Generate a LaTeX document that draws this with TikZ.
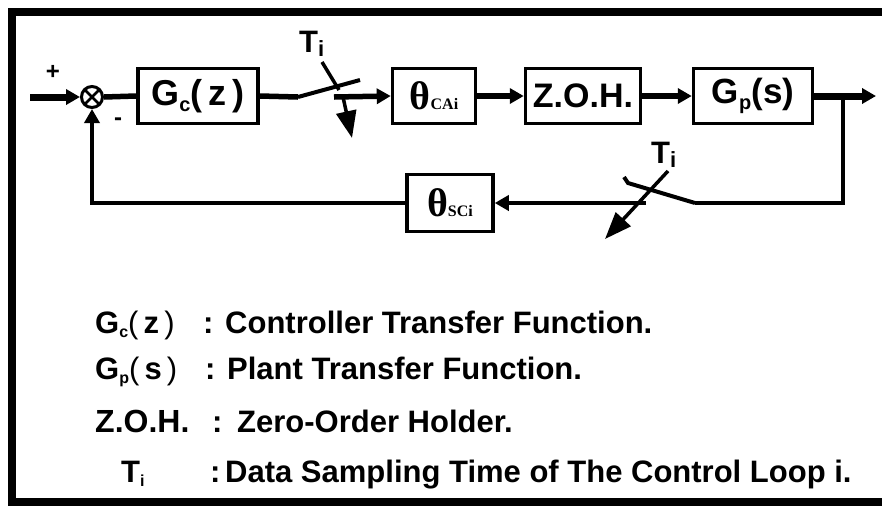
\documentclass[tikz,border=0pt]{standalone}
\usepackage{fontspec}
\setmainfont{Liberation Sans}
\newfontfamily\thetafont{Liberation Serif}
\usetikzlibrary{arrows.meta,calc}
\newcommand\mysub[2]{\raisebox{-0.3ex}{\fontsize{#1}{#1}\selectfont #2}}
\begin{document}
\begin{tikzpicture}[x=1pt,y=-1pt,
  blk/.style={draw,line width=3.5pt,minimum width=#1,minimum height=55pt,inner sep=0pt},
  fwd/.style={line width=5.5pt},
  fb/.style={line width=3.5pt},
  tip/.style={-{Triangle[length=14pt,width=15pt]}},
  bigtip/.style={-{Triangle[length=27pt,width=20pt]}},
  lab/.style={anchor=base west,inner sep=0pt,font=\fontsize{31}{31}\selectfont\bfseries},
  sgn/.style={inner sep=0pt,font=\fontsize{24}{24}\selectfont\bfseries}]
\useasboundingbox (0,0) rectangle (882,507);
\fill[white] (0,0) rectangle (882,507);
% frame
\draw[line width=8pt] (882,12) -- (12,12) -- (12,502) -- (882,502);

% blocks
\node[circle,draw,line width=3pt,minimum size=21pt,inner sep=0pt] (sum) at (92,97) {};
\draw[line width=2.5pt,shorten <=1pt,shorten >=1pt] (sum.north west) -- (sum.south east);
\draw[line width=2.5pt,shorten <=1pt,shorten >=1pt] (sum.north east) -- (sum.south west);
\node[blk=120pt] (Gc) at (198,96) {\fontsize{36}{36}\selectfont\bfseries G\mysub{20}{c}(\,z\,)};
\node[blk=83pt] (thC) at (434,96) {\thetafont\bfseries\fontsize{40}{40}\selectfont θ\fontsize{16}{16}\selectfont CAi};
\node[blk=115pt] (zoh) at (583,96) {\fontsize{34}{34}\selectfont\bfseries Z.O.H.};
\node[blk=119pt] (Gp) at (753,96) {\fontsize{35}{35}\selectfont\bfseries G\mysub{20}{p}(s)};
\node[blk=86pt,minimum height=57pt] (thS) at (450,203) {\thetafont\bfseries\fontsize{40}{40}\selectfont θ\fontsize{16}{16}\selectfont SCi};

% signs
\node[sgn] (plus) at (53,72) {+};
\node[sgn] (minus) at (118,122) {-};

% input
\coordinate (in) at (30,97);
\draw[line width=7pt,tip] (in) -- (sum.west);
\draw[fwd] (sum.east) -- (Gc.west);

% first sampler
\coordinate (s1a) at (298,97);
\coordinate (s1b) at (360,80);
\coordinate (s1c) at (334,97);
\draw[fwd] (Gc.east) -- (s1a);
\draw[line width=4pt] (s1a) -- (s1b);
\draw[fwd,tip] (s1c) -- (thC.west);
\node[lab] (T1) at (299,52) {T\mysub{22}{i}};
\coordinate (a1a) at (322,62);
\coordinate (a1b) at (339,90);
\coordinate (a1c) at (343,97);
\coordinate (a1d) at (352,138);
\draw[line width=3.5pt] (a1a) -- (a1b);
\draw[line width=3.5pt,bigtip] (a1c) -- (a1d);

% forward path
\draw[fwd,tip] (thC.east) -- (zoh.west);
\draw[fwd,tip] (zoh.east) -- (Gp.west);
\coordinate (br) at (843,96);
\coordinate (out) at (876,96);
\draw[line width=7pt,tip] (Gp.east) -- (out);

% feedback with second sampler
\coordinate (s2a) at (695,203);
\coordinate (s2b) at (628,183);
\coordinate (s2h) at (624,177);
\coordinate (s2c) at (646,203);
\draw[fb] (br) |- (s2a);
\draw[line width=4pt] (s2a) -- (s2b) -- (s2h);
\draw[fb,tip] (s2c) -- (thS.east);
\node[lab] (T2) at (651,163) {T\mysub{22}{i}};
\coordinate (a2a) at (668,171);
\coordinate (a2b) at (605,239);
\draw[line width=3.5pt,bigtip] (a2a) -- (a2b);
\draw[fb,tip] (thS.west) -| (sum.south);

% legend
\node[lab] (l1a) at (95,333) {G\mysub{16}{c}{\mdseries(}\,z\,{\mdseries)}};
\node[lab] (l1b) at (203,333) {:};
\node[lab] (l1c) at (225,333) {Controller Transfer Function.};
\node[lab] (l2a) at (95,379) {G\mysub{16}{p}{\mdseries(}\,s\,{\mdseries)}};
\node[lab] (l2b) at (205,379) {:};
\node[lab] (l2c) at (227,379) {Plant Transfer Function.};
\node[lab,font=\fontsize{32}{32}\selectfont\bfseries] (l3a) at (95,432) {Z.O.H.};
\node[lab] (l3b) at (212,432) {:};
\node[lab] (l3c) at (237,432) {Zero-Order Holder.};
\node[lab] (l4a) at (121,482) {T\mysub{16}{i}};
\node[lab] (l4b) at (210,482) {:};
\node[lab] (l4c) at (225,482) {Data Sampling Time of The Control Loop i.};
\end{tikzpicture}
\end{document}
